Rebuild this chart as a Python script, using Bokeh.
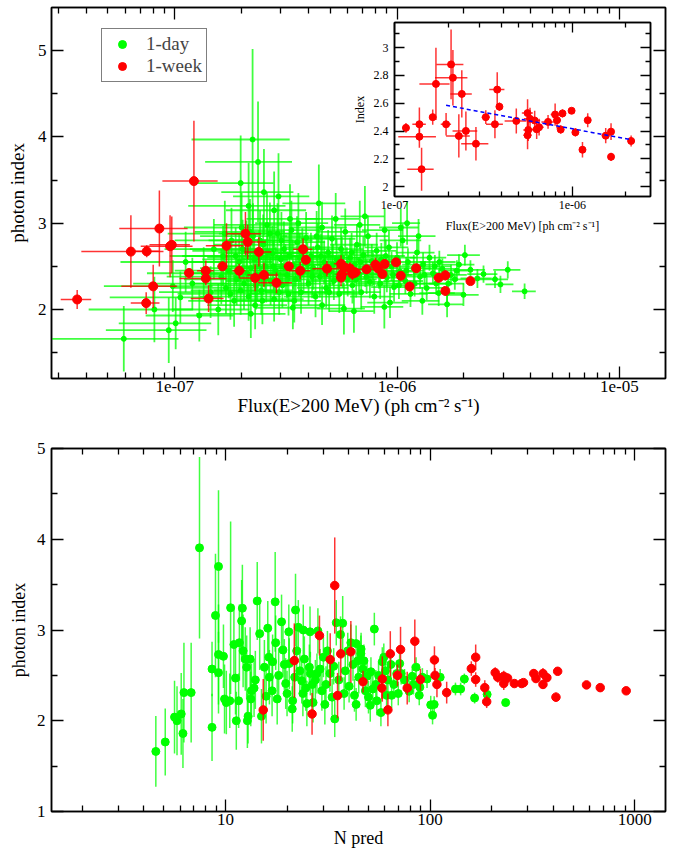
import numpy as np
from bokeh.plotting import figure
from bokeh.layouts import column
from bokeh.models import (LogAxis, LinearAxis, FixedTicker, CustomJSTickFormatter,
                          Legend, LegendItem, Range1d)
from bokeh.embed import file_html
from bokeh.resources import INLINE

SERIF = "Liberation Serif"
GREEN = "#00ff00"
RED = "#ff0000"

# ---- 1-week bins: flux (1e-7 ph cm-2 s-1), photon index, errors ----
week_flux = [0.364, 0.635, 0.744, 0.748, 0.80, 0.853, 0.953, 0.97, 1.16, 1.22,
             1.38, 1.38, 1.42, 1.64, 1.71, 1.95, 2.08, 2.13, 2.30, 2.39,
             2.52, 2.87, 3.26, 3.67, 3.78, 3.89, 4.84, 5.60, 5.78, 6.14,
             5.60, 5.65, 6.30, 6.50, 7.30, 8.00, 8.20, 8.60, 8.80, 9.90,
             10.4, 11.4, 12.2, 15.4, 16.5, 16.5, 21.4]
week_flux_err = [0.057, 0.255, 0.11, 0.10, 0.225, 0.29, 0.25, 0.20, 0.05, 0.34,
                 0.12, 0.33, 0.24, 0.06, 0.33, 0.13, 0.36, 0.44, 0.35, 0.33,
                 0.40, 0.50, 0.17, 0.40, 0.37, 0.08, 0.68, 0.40, 0.45, 0.45,
                 0.30, 0.35, 0.40, 0.40, 0.60, 0.45, 0.40, 0.30, 0.30, 0.30,
                 0.40, 0.50, 0.50, 0.80, 0.70, 0.50, 0.90]
week_index = [2.116, 2.671, 2.074, 2.674, 2.268, 2.938, 2.733, 2.749, 2.423, 3.488,
              2.449, 2.36, 2.126, 2.50, 2.739, 2.449, 2.879, 2.783, 2.365, 2.667,
              2.401, 2.309, 2.50, 2.449, 2.698, 2.575, 2.473, 2.529, 2.488, 2.476,
              2.37, 2.408, 2.413, 2.428, 2.466, 2.519, 2.478, 2.411, 2.527, 2.546,
              2.391, 2.266, 2.478, 2.367, 2.396, 2.215, 2.329]
week_index_err = [0.11, 0.42, 0.125, 0.07, 0.25, 0.44, 0.36, 0.33, 0.035, 0.70,
                  0.12, 0.08, 0.155, 0.055, 0.26, 0.08, 0.25, 0.20, 0.155, 0.17,
                  0.14, 0.12, 0.05, 0.10, 0.125, 0.03, 0.09, 0.10, 0.08, 0.07,
                  0.10, 0.08, 0.07, 0.06, 0.05, 0.08, 0.06, 0.03, 0.03, 0.02,
                  0.03, 0.055, 0.05, 0.055, 0.06, 0.03, 0.04]

# ---- 1-day bins ----
day_flux = [0.59, 0.81, 0.94, 1.01, 1.06, 1.29, 1.57, 0.98, 1.12, 1.20, 1.35, 1.45, 1.50,
            1.98, 2.24, 2.37, 2.52, 2.93, 4.45, 2.15, 3.30, 7.17, 11.1, 2.80,
            1.65, 1.70, 1.75, 1.80, 1.85, 1.90, 1.95, 2.00, 2.05, 2.10,
            2.15, 2.20, 2.25, 2.30, 2.35, 2.40, 2.45, 2.50, 2.55, 2.60,
            2.70, 2.75, 2.80, 2.85, 2.90, 3.00, 3.05, 3.10, 3.20, 3.25,
            3.35, 3.40, 3.50, 3.55, 3.65, 3.70, 3.80, 3.90, 4.00, 4.10,
            4.20, 4.30, 4.40, 4.50, 4.60, 4.70, 4.80, 4.90, 5.00, 5.10,
            5.20, 5.35, 5.50, 5.60, 5.70, 5.77, 5.85, 6.00, 6.15, 6.30,
            6.45, 6.60, 6.75, 6.90, 7.05, 7.20, 7.40, 7.55, 7.70, 7.90,
            8.10, 8.30, 8.50, 8.77, 9.00, 9.20, 9.45, 9.70, 10.0, 10.3,
            10.6, 10.9, 11.2, 11.5, 11.9, 12.3, 12.7, 13.1, 13.6, 14.0,
            14.5, 15.0, 15.4, 15.5, 16.0, 16.8, 16.8, 17.5, 18.2, 19.0,
            19.9, 20.2, 21.4, 23.0, 24.5, 27.6, 29.2, 31.5, 37.5,
            3.6, 5.3, 6.8, 8.8, 10.4, 12.5, 2.2, 3.4, 4.6, 6.4, 9.3, 13.0,
            1.62, 1.68, 1.78, 1.88, 1.98, 2.02, 2.12, 2.18, 2.28, 2.32,
            2.42, 2.48, 2.58, 2.62, 2.68, 2.78, 2.95, 3.02, 3.15, 3.28,
            3.45, 3.62, 3.75, 3.95, 4.15, 4.35, 4.55, 4.75, 4.95, 5.15,
            5.45, 5.65, 5.95, 6.25, 6.55, 6.85, 7.30, 7.80, 8.40, 8.90,
            9.60, 10.2, 11.0, 12.0, 13.3, 14.8, 17.0, 18.6]
day_flux_err = [0.45, 0.40, 0.45, 0.45, 0.55, 0.55, 0.60, 0.50, 0.55, 0.55, 0.60, 0.60, 0.60,
                0.80, 1.05, 1.00, 0.90, 1.10, 1.40, 1.00, 1.20, 1.60, 1.60, 1.10,
                0.70, 0.70, 0.75, 0.80, 0.70, 0.80, 0.80, 0.90, 0.85, 0.90,
                0.85, 0.90, 0.95, 0.90, 0.95, 1.00, 0.95, 1.00, 1.00, 1.10,
                1.00, 1.05, 1.00, 1.05, 1.10, 1.10, 1.05, 1.15, 1.10, 1.10,
                1.20, 1.15, 1.15, 1.20, 1.20, 1.15, 1.20, 1.25, 1.20, 1.25,
                1.25, 1.20, 1.30, 1.25, 1.35, 1.30, 1.25, 1.35, 1.30, 1.40,
                1.30, 1.40, 1.35, 1.45, 1.40, 1.40, 1.50, 1.45, 1.50, 1.50,
                1.55, 1.60, 1.55, 1.55, 1.65, 1.65, 1.75, 1.70, 1.75, 1.75,
                1.85, 1.85, 1.90, 1.90, 1.95, 2.05, 2.05, 2.05, 2.15, 2.15,
                2.25, 2.20, 2.30, 2.25, 2.40, 2.45, 2.45, 2.55, 2.55, 2.65,
                2.70, 2.75, 2.80, 2.85, 2.90, 3.00, 3.00, 3.10, 3.20, 3.30,
                3.40, 3.40, 3.50, 3.70, 3.80, 4.00, 4.20, 4.40, 4.60,
                1.30, 1.45, 1.60, 1.85, 2.10, 2.40, 0.95, 1.10, 1.25, 1.45, 1.95, 2.50,
                0.70, 0.75, 0.75, 0.80, 0.80, 0.85, 0.90, 0.95, 0.95, 0.90,
                1.00, 0.95, 1.00, 1.05, 1.10, 1.05, 1.05, 1.15, 1.10, 1.15,
                1.10, 1.20, 1.20, 1.25, 1.25, 1.30, 1.30, 1.30, 1.30, 1.40,
                1.40, 1.45, 1.45, 1.50, 1.55, 1.60, 1.65, 1.75, 1.85, 1.95,
                2.05, 2.15, 2.25, 2.40, 2.55, 2.70, 3.05, 3.25]
day_index = [1.66, 2.00, 1.76, 1.84, 2.14, 1.93, 2.00, 2.27, 2.55, 2.30, 2.42, 2.20, 2.70,
             3.465, 3.97, 3.71, 3.36, 3.31, 3.23, 3.20, 3.05, 3.08, 3.00, 3.15,
             2.62, 2.25, 2.45, 2.80, 2.10, 2.35, 2.55, 2.95, 2.30, 2.68,
             2.15, 2.48, 2.85, 2.05, 2.40, 2.60, 2.22, 2.75, 2.50, 2.98,
             2.33, 2.65, 2.12, 2.45, 2.88, 2.58, 2.28, 2.70, 2.40, 2.18,
             2.92, 2.52, 2.35, 2.78, 2.60, 2.20, 2.45, 2.83, 2.30, 2.62,
             2.48, 2.15, 2.72, 2.38, 2.95, 2.55, 2.25, 2.66, 2.44, 2.82,
             2.33, 2.58, 2.18, 2.70, 2.47, 2.01, 2.90, 2.36, 2.60, 2.28,
             2.52, 2.75, 2.41, 2.20, 2.63, 2.46, 2.85, 2.32, 2.56, 2.15,
             2.68, 2.42, 2.58, 2.03, 2.37, 2.72, 2.50, 2.26, 2.60, 2.44,
             2.80, 2.33, 2.55, 2.18, 2.48, 2.66, 2.38, 2.52, 2.25, 2.60,
             2.42, 2.30, 2.19, 2.55, 2.47, 2.06, 2.19, 2.40, 2.35, 2.52,
             2.17, 2.63, 2.46, 2.36, 2.41, 2.35, 2.29, 2.46, 2.21,
             3.00, 3.05, 2.98, 2.92, 2.95, 2.85, 1.95, 2.02, 2.05, 1.98, 2.08, 2.10,
             2.38, 2.88, 2.18, 2.62, 2.22, 2.70, 2.42, 2.90, 2.58, 2.28,
             2.80, 2.10, 2.36, 2.66, 2.88, 2.50, 2.20, 2.80, 2.48, 2.62,
             2.10, 2.42, 2.66, 2.52, 2.38, 2.85, 2.62, 2.42, 2.20, 2.52,
             2.40, 2.60, 2.50, 2.66, 2.35, 2.55, 2.38, 2.48, 2.30, 2.62,
             2.40, 2.28, 2.45, 2.30, 2.40, 2.50, 2.30, 2.45]
day_index_err = [0.38, 0.38, 0.38, 0.30, 0.30, 0.30, 0.30, 0.30, 0.35, 0.30, 0.30, 0.30, 0.35,
                 0.55, 1.05, 0.70, 0.50, 0.50, 0.45, 0.50, 0.40, 0.35, 0.25, 0.45,
                 0.35, 0.30, 0.32, 0.38, 0.30, 0.30, 0.33, 0.40, 0.30, 0.35,
                 0.28, 0.30, 0.38, 0.28, 0.30, 0.32, 0.28, 0.35, 0.30, 0.38,
                 0.28, 0.32, 0.26, 0.28, 0.35, 0.30, 0.26, 0.32, 0.27, 0.25,
                 0.34, 0.28, 0.26, 0.30, 0.28, 0.25, 0.26, 0.30, 0.25, 0.27,
                 0.25, 0.24, 0.28, 0.24, 0.30, 0.25, 0.23, 0.26, 0.23, 0.27,
                 0.22, 0.24, 0.22, 0.25, 0.22, 0.30, 0.27, 0.21, 0.23, 0.21,
                 0.22, 0.24, 0.20, 0.20, 0.22, 0.20, 0.24, 0.19, 0.20, 0.20,
                 0.21, 0.18, 0.19, 0.25, 0.17, 0.20, 0.17, 0.17, 0.18, 0.16,
                 0.19, 0.15, 0.16, 0.15, 0.15, 0.16, 0.14, 0.14, 0.14, 0.15,
                 0.13, 0.13, 0.15, 0.13, 0.12, 0.15, 0.13, 0.12, 0.12, 0.12,
                 0.13, 0.12, 0.11, 0.11, 0.10, 0.10, 0.10, 0.10, 0.09,
                 0.35, 0.30, 0.28, 0.25, 0.22, 0.20, 0.28, 0.25, 0.23, 0.25, 0.18, 0.16,
                 0.32, 0.38, 0.30, 0.33, 0.28, 0.34, 0.30, 0.38, 0.32, 0.28,
                 0.35, 0.27, 0.28, 0.32, 0.36, 0.30, 0.26, 0.33, 0.28, 0.29,
                 0.25, 0.27, 0.28, 0.26, 0.25, 0.29, 0.26, 0.24, 0.23, 0.24,
                 0.22, 0.24, 0.22, 0.23, 0.21, 0.22, 0.20, 0.20, 0.18, 0.19,
                 0.17, 0.16, 0.16, 0.15, 0.14, 0.13, 0.12, 0.12]

# ---- lower panel: predicted counts vs index ----
day_npred = [4.57, 5.08, 5.64, 5.80, 6.08, 6.20, 6.27, 6.80, 7.47, 8.60,
             8.60, 8.94, 9.25, 9.25, 9.25, 9.78, 9.90, 10.1, 10.6, 10.5,
             11.0, 11.2, 11.3, 11.6, 11.7, 12.0, 12.1, 12.2, 12.5, 12.7,
             12.8, 12.9, 13.2, 13.3, 13.4, 13.8, 14.3, 14.7, 15.0, 15.5,
             16.1, 16.3, 16.4, 16.9, 17.5, 17.6, 17.9, 18.8, 19.1, 19.7,
             20.0, 20.4, 20.5, 21.2, 21.3, 22.0, 22.3, 22.7, 23.1, 23.6,
             24.0, 24.3, 24.7, 25.0, 25.7, 25.9, 26.6, 26.8, 28.3, 29.0,
             29.6, 30.1, 30.6, 31.5, 32.4, 33.2, 34.2, 34.8, 37.4, 39.6,
             41.0, 43.5, 44.3, 43.5, 45.9, 46.0, 47.5, 48.3, 49.2, 50.0,
             51.0, 51.4, 53.4, 54.3, 54.9, 57.5, 58.4, 59.4, 61.3, 62.2,
             64.3, 64.9, 66.5, 68.7, 69.9, 71.0, 72.2, 79.0, 81.8, 85.4,
             88.5, 89.1, 91.7, 96.6, 100.7, 102.8, 104.7, 112, 133, 141,
             147, 165, 190, 234,
             27.5, 28.0, 31.0, 33.8, 35.8, 38.5, 40.2, 42.0, 44.8, 47.0,
             52.5, 56.0, 18.2, 19.4, 21.8, 23.9, 26.0, 14.0, 15.8, 17.0,
             36.5, 38.0, 42.7, 60.5, 75.0, 83.0]
day_npred_index = [1.662, 1.766, 2.04, 2.00, 2.075, 1.86, 2.31, 2.31, 3.905, 1.927,
                   2.57, 3.16, 3.70, 2.53, 2.73, 2.71, 2.24, 2.20, 3.245, 2.22,
                   2.84, 2.47, 2.00, 2.22, 2.86, 3.10, 3.24, 2.77, 2.68, 2.59,
                   2.00, 2.05, 2.68, 2.24, 2.33, 2.36, 3.32, 2.96, 2.05, 2.59,
                   3.02, 2.70, 2.48, 2.33, 3.31, 2.86, 2.24, 3.09, 2.78, 2.41,
                   2.30, 2.98, 2.63, 2.13, 2.22, 3.22, 2.77, 3.03, 2.55, 2.44,
                   3.00, 2.68, 2.36, 2.19, 2.59, 2.98, 2.40, 2.20, 2.99, 2.57,
                   2.33, 2.70, 2.18, 2.77, 2.52, 2.26, 2.02, 3.08, 3.075, 2.77,
                   2.86, 2.85, 2.66, 2.18, 2.74, 2.79, 2.66, 2.33, 2.49, 2.26,
                   2.17, 2.54, 3.01, 2.40, 2.22, 2.09, 2.65, 2.70, 2.28, 2.45,
                   2.62, 2.28, 2.40, 2.52, 2.30, 2.63, 2.52, 2.325, 2.49, 2.59,
                   2.28, 2.37, 2.48, 2.46, 2.175, 2.06, 2.18, 2.48, 2.35, 2.35,
                   2.46, 2.25, 2.29, 2.20,
                   2.45, 2.52, 2.40, 2.60, 2.45, 2.55, 2.38, 2.62, 2.48, 2.57,
                   2.35, 2.50, 2.50, 2.62, 2.48, 2.30, 2.52, 2.45, 2.27, 2.65,
                   2.95, 2.30, 2.28, 2.55, 2.45, 2.40]
day_npred_err = [0.39, 0.37, 0.40, 0.38, 0.45, 0.38, 0.55, 0.55, 1.00, 0.37,
                 0.30, 0.68, 0.84, 0.45, 0.55, 0.35, 0.38, 0.35, 0.95, 0.30,
                 0.40, 0.40, 0.32, 0.30, 0.42, 0.45, 0.48, 0.40, 0.35, 0.35,
                 0.30, 0.30, 0.35, 0.30, 0.30, 0.32, 0.43, 0.40, 0.30, 0.30,
                 0.30, 0.35, 0.30, 0.28, 0.55, 0.30, 0.28, 0.30, 0.30, 0.28,
                 0.25, 0.30, 0.28, 0.25, 0.25, 0.40, 0.28, 0.30, 0.25, 0.25,
                 0.28, 0.25, 0.25, 0.25, 0.25, 0.28, 0.22, 0.22, 0.25, 0.22,
                 0.22, 0.22, 0.22, 0.22, 0.20, 0.20, 0.20, 0.25, 0.30, 0.20,
                 0.20, 0.20, 0.20, 0.18, 0.20, 0.18, 0.18, 0.18, 0.18, 0.18,
                 0.18, 0.16, 0.18, 0.16, 0.16, 0.15, 0.16, 0.15, 0.14, 0.14,
                 0.14, 0.14, 0.14, 0.13, 0.13, 0.13, 0.12, 0.12, 0.12, 0.11,
                 0.11, 0.11, 0.10, 0.10, 0.10, 0.10, 0.09, 0.09, 0.07, 0.07,
                 0.06, 0.06, 0.05, 0.04,
                 0.22, 0.22, 0.20, 0.20, 0.20, 0.20, 0.18, 0.18, 0.18, 0.17,
                 0.16, 0.15, 0.30, 0.28, 0.26, 0.25, 0.24, 0.32, 0.30, 0.30,
                 0.20, 0.18, 0.18, 0.14, 0.12, 0.11]
week_npred = [15.3, 21.7, 26.5, 28.8, 32.5, 34.2, 35.3, 36.6, 41.0, 47.0,
              58.1, 58.4, 62.2, 63.9, 69.3, 71.7, 77.3, 84.2, 89.7, 105,
              105.7, 108, 120.5, 159, 167, 167, 185, 189, 208, 214,
              229, 229, 239, 258, 280, 286, 321, 329, 356, 356,
              372, 412, 420, 581, 678, 908]
week_npred_index = [2.119, 2.663, 2.075, 2.939, 2.674, 3.49, 2.277, 2.737, 2.76, 2.43,
                    2.36, 2.46, 2.12, 2.737, 2.50, 2.785, 2.36, 2.876, 2.454, 2.67,
                    2.50, 2.40, 2.31, 2.575, 2.70, 2.454, 2.365, 2.21, 2.53, 2.48,
                    2.49, 2.41, 2.47, 2.41, 2.41, 2.42, 2.52, 2.465, 2.52, 2.40,
                    2.475, 2.26, 2.545, 2.395, 2.365, 2.33]
week_npred_err = [0.34, 0.41, 0.23, 0.22, 0.29, 0.53, 0.25, 0.30, 0.34, 0.12,
                  0.12, 0.25, 0.18, 0.25, 0.12, 0.25, 0.18, 0.24, 0.12, 0.15,
                  0.08, 0.14, 0.12, 0.08, 0.14, 0.08, 0.08, 0.07, 0.06, 0.06,
                  0.06, 0.07, 0.05, 0.04, 0.04, 0.04, 0.05, 0.05, 0.06, 0.05,
                  0.04, 0.05, 0.04, 0.04, 0.03, 0.03]

# linear fit shown in the inset
fit_flux = [1.95e-7, 2.14e-6]
fit_index = [2.585, 2.338]

flux_ticks = [1e-7, 1e-6, 1e-5]
flux_minor = [k * 10.0 ** e for e in (-8, -7, -6, -5) for k in range(2, 10)]
npred_ticks = [10, 100, 1000]
npred_minor = [k * 10.0 ** e for e in (0, 1, 2, 3) for k in range(2, 10)]


def style_axis(ax, size, tick_len, label_size):
    ax.axis_line_color = "black"
    ax.axis_line_width = 1.5
    ax.major_tick_in = tick_len
    ax.major_tick_out = 0
    ax.minor_tick_in = int(tick_len * 0.55)
    ax.minor_tick_out = 0
    ax.major_tick_line_width = 1.3
    ax.minor_tick_line_width = 1.3
    ax.major_label_text_font = SERIF
    ax.major_label_text_font_size = size
    ax.major_label_text_color = "black"
    ax.axis_label_text_font = SERIF
    ax.axis_label_text_font_size = label_size
    ax.axis_label_text_font_style = "normal"
    ax.axis_label_text_color = "black"


def set_frame(p, xt, xm, yt, ym, xfmt, yfmt, size, tick_len, label_size):
    p.xgrid.visible = False
    p.ygrid.visible = False
    p.outline_line_color = "black"
    p.outline_line_width = 1.5
    xa, ya = p.below[0], p.left[0]
    xa.ticker = FixedTicker(ticks=xt, minor_ticks=xm)
    ya.ticker = FixedTicker(ticks=yt, minor_ticks=ym)
    xa.formatter = CustomJSTickFormatter(code=xfmt)
    ya.formatter = CustomJSTickFormatter(code=yfmt)
    style_axis(xa, size, tick_len, label_size)
    style_axis(ya, size, tick_len, label_size)
    top = LogAxis(ticker=FixedTicker(ticks=xt, minor_ticks=xm),
                  formatter=CustomJSTickFormatter(code="return ''"))
    right = LinearAxis(ticker=FixedTicker(ticks=yt, minor_ticks=ym),
                       formatter=CustomJSTickFormatter(code="return ''"))
    for ax in (top, right):
        style_axis(ax, "1px", tick_len, label_size)
        ax.major_label_standoff = 0
    p.add_layout(top, "above")
    p.add_layout(right, "right")
    return xa, ya


EXP = "return tick.toExponential(0).replace('e-', 'e-0')"
INT = "return String(Math.round(tick * 10) / 10)"

# ---------------- top panel ----------------
wf = np.array(week_flux) * 1e-7
wfe = np.array(week_flux_err) * 1e-7
wi = np.array(week_index)
wie = np.array(week_index_err)
df = np.array(day_flux) * 1e-7
dfe = np.array(day_flux_err) * 1e-7
di = np.array(day_index)
die = np.array(day_index_err)

p = figure(width=678, height=421, x_axis_type="log",
           x_range=Range1d(2.79e-8, 1.614e-5), y_range=Range1d(1.2, 5.5),
           output_backend="svg", toolbar_location=None,
           min_border_left=51, min_border_right=11, min_border_top=7, min_border_bottom=43)
pxa, pya = set_frame(p, flux_ticks, flux_minor, [2, 3, 4, 5], [1.5, 2.5, 3.5, 4.5],
                     EXP, INT, "17px", 12, "19px")
pxa.axis_label = "Flux(E>200 MeV) (ph cm\u207b\u00b2 s\u207b\u00b9)"
pya.axis_label = "photon index"
pxa.major_label_standoff = 2
pxa.axis_label_standoff = 0
pya.major_label_standoff = 5
pya.axis_label_standoff = 7

p.segment(df - dfe, di, df + dfe, di, line_color=GREEN, line_width=1.8, line_alpha=0.75)
p.segment(df, di - die, df, di + die, line_color=GREEN, line_width=1.8, line_alpha=0.75)
g_dots = p.scatter(df, di, size=5, fill_color=GREEN, line_color=GREEN)
p.segment(wf - wfe, wi, wf + wfe, wi, line_color=RED, line_width=1.5, line_alpha=0.8)
p.segment(wf, wi - wie, wf, wi + wie, line_color=RED, line_width=1.5, line_alpha=0.8)
r_dots = p.scatter(wf, wi, size=9, fill_color=RED, line_color=RED)

legend = Legend(items=[LegendItem(label="1-day", renderers=[g_dots]),
                       LegendItem(label="1-week", renderers=[r_dots])],
                location=(50, 296))
legend.label_text_font = SERIF
legend.label_text_font_size = "19px"
legend.border_line_color = "black"
legend.border_line_width = 1.5
legend.padding = 4
legend.spacing = 0
legend.label_standoff = 8
legend.glyph_width = 32
legend.glyph_height = 20
legend.margin = 0
p.add_layout(legend)

# ---------------- inset: 1-week bins above 1e-7 only ----------------
sel = (wf > 1.0e-7) & (wi < 3.2)
sf, sfe, si, sie = wf[sel], wfe[sel], wi[sel], wie[sel]

ins = figure(width=320, height=216, x_axis_type="log",
             x_range=Range1d(1.0e-7, 2.75e-6), y_range=Range1d(1.93, 3.18),
             output_backend="svg", toolbar_location=None,
             min_border_left=50, min_border_right=10, min_border_top=2, min_border_bottom=40)
ins.border_fill_alpha = 0
ins.background_fill_color = "white"
ins.styles = {"position": "absolute", "left": "343px", "top": "20px", "z-index": "5"}
ixa, iya = set_frame(ins, [1e-7, 1e-6], flux_minor, [2.0, 2.2, 2.4, 2.6, 2.8, 3.0],
                     [2.1, 2.3, 2.5, 2.7, 2.9, 3.1], EXP, INT, "12px", 10, "12px")
ixa.axis_label = "Flux(E>200 MeV) [ph cm\u207b\u00b2 s\u207b\u00b9]"
iya.axis_label = "Index"
ixa.major_label_standoff = 4
iya.major_label_standoff = 6
ixa.axis_label_standoff = 7
iya.axis_label_standoff = 4
ins.segment(sf - sfe, si, sf + sfe, si, line_color=RED, line_width=1.5, line_alpha=0.8)
ins.segment(sf, si - sie, sf, si + sie, line_color=RED, line_width=1.5, line_alpha=0.8)
ins.scatter(sf, si, size=7, fill_color=RED, line_color=RED)
ins.line(fit_flux, fit_index, line_color="#0000ff", line_width=1.5, line_dash="4 3")

# ---------------- bottom panel ----------------
dn = np.array(day_npred)
dni = np.array(day_npred_index)
dne = np.array(day_npred_err)
wn = np.array(week_npred)
wni = np.array(week_npred_index)
wne = np.array(week_npred_err)

b = figure(width=678, height=434, x_axis_type="log",
           x_range=Range1d(1.413, 1413), y_range=Range1d(1, 5),
           output_backend="svg", toolbar_location=None,
           min_border_left=50, min_border_right=13, min_border_top=27, min_border_bottom=44)
bxa, bya = set_frame(b, npred_ticks, npred_minor, [1, 2, 3, 4, 5], [1.5, 2.5, 3.5, 4.5],
                     "return tick.toFixed(0)", INT, "17px", 12, "18px")
bxa.axis_label = "N pred"
bya.axis_label = "photon index"
bxa.major_label_standoff = 2
bxa.axis_label_standoff = 0
bya.major_label_standoff = 6
bya.axis_label_standoff = 5
b.segment(dn, dni - dne, dn, dni + dne, line_color=GREEN, line_width=1.5, line_alpha=0.75)
b.scatter(dn, dni, size=8, fill_color=GREEN, line_color=GREEN)
b.segment(wn, wni - wne, wn, wni + wne, line_color=RED, line_width=1.5, line_alpha=0.8)
b.scatter(wn, wni, size=8.5, fill_color=RED, line_color=RED)

page = column(p, ins, b, spacing=0)
open("out.html", "w").write(file_html(page, INLINE))
